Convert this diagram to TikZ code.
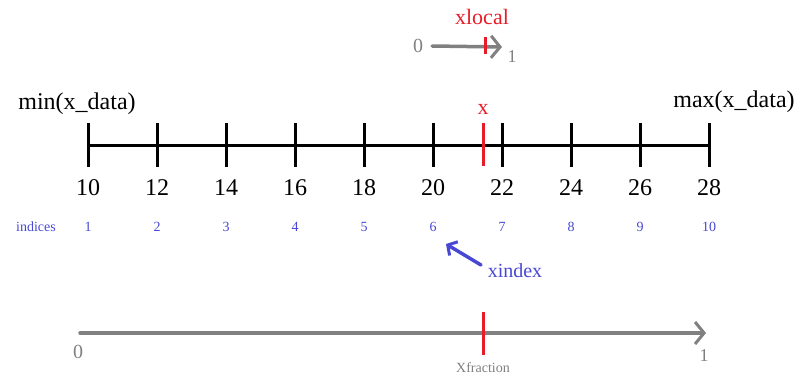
\documentclass[tikz,border=0pt]{standalone}
\usepackage{fontspec}
\setmainfont{Liberation Serif}
\usetikzlibrary{arrows.meta, positioning}
\definecolor{idxblue}{RGB}{72,72,212}
\definecolor{axgray}{RGB}{128,128,128}
\definecolor{mkred}{RGB}{232,28,40}

\begin{document}
\begin{tikzpicture}[x=1pt, y=-1pt,
        axis/.style={line width=3pt, black},
        grayaxis/.style={line width=3.5pt, axgray, line cap=round, -{Straight Barb[length=9pt, width=22pt, line width=3pt]}},
        marker/.style={line width=3pt, mkred},
        bignum/.style={inner sep=1pt, font=\fontsize{24}{28}\selectfont},
        idxnum/.style={inner sep=1pt, text=idxblue, font=\fontsize{14}{16}\selectfont},
        graynum/.style={inner sep=1pt, text=axgray, font=\fontsize{20}{22}\selectfont},
        idxarrow/.style={line width=3.5pt, idxblue, line cap=round, -{Straight Barb[length=7pt, width=16pt, line width=3pt]}}
    ]
        \useasboundingbox (0,0) rectangle (797,378);

        % local arrow on top
        \node (zerotop) [graynum] at (418,46) {0};
        \node (onetop) [graynum, font=\fontsize{18}{20}\selectfont] at (512,57) {1};
        \coordinate (toptip) at (502,47);
        \draw [grayaxis] ([xshift=8pt]zerotop.east) -- (toptip);
        \draw [marker] (485,37) -- (485,54);
        \node (xlocal) [text=mkred, inner sep=1pt, font=\fontsize{22}{24}\selectfont] at (482,17) {xlocal};

        % data axis
        \node (minlbl) [bignum] at (77,104) {min(x\_data)};
        \node (maxlbl) [bignum] at (734,102) {max(x\_data)};
        \coordinate (lo) at (88,145);
        \coordinate (hi) at (709,145);
        \draw [axis] (lo) -- (hi);
        \foreach \v [count=\i from 0] in {10,12,...,28} {
            \draw [axis] (88+69*\i,123) -- (88+69*\i,167);
            \node (num\v) [bignum] at (88+69*\i,188) {\v};
        }
        \node (indices) [idxnum] at (36,227) {indices};
        \foreach \j [count=\i from 0] in {1,...,10}
            \node (idx\j) [idxnum] at (88+69*\i,227) {\j};

        % x marker
        \draw [marker] (483,123) -- (483,166);
        \node (xlbl) [text=mkred, inner sep=1pt, font=\fontsize{22}{24}\selectfont] at (483,109) {x};

        % xindex pointer
        \node (xindex) [text=idxblue, inner sep=1pt, font=\fontsize{20}{22}\selectfont] at (515,271) {xindex};
        \coordinate (idxtail) at (481,265);
        \coordinate (idxtip) at (446,244);
        \draw [idxarrow] (idxtail) -- (idxtip);

        % fraction arrow
        \coordinate (fraclo) at (80,333);
        \coordinate (frachi) at (706,333);
        \draw [grayaxis] (fraclo) -- (frachi);
        \node (zerobot) [graynum] at (78,352) {0};
        \node (onebot) [graynum, font=\fontsize{18}{20}\selectfont] at (704,356) {1};
        \draw [marker] (483,312) -- (483,355);
        \node (xfrac) [inner sep=1pt, text=axgray, font=\fontsize{14}{16}\selectfont] at (483,368) {Xfraction};
    \end{tikzpicture}
\end{document}
